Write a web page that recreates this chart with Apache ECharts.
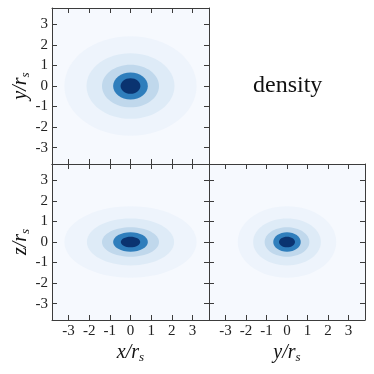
<!DOCTYPE html>
<html>
<head>
<meta charset="utf-8">
<script src="https://cdn.jsdelivr.net/npm/echarts@6/dist/echarts.min.js"></script>
<style>
  html, body { margin: 0; padding: 0; background: #fff; }
  #chart { width: 374px; height: 374px; }
</style>
</head>
<body>
<div id="chart"></div>
<script>
// tick labels and axis range (units of r_s)
const ticks = [-3, -2, -1, 0, 1, 2, 3]
const axisMin = -3.8
const axisMax = 3.8

// filled contour bands, outermost first
const levelColors = ['#eef4fc', '#deebf7', '#c0d8ec', '#2f7ebc', '#0a3370']
const bgColor = '#f6f9fe'
const centre = [0, 0]

// half-widths of each contour band
const xyHalfX = [3.2, 2.13, 1.38, 0.84, 0.48]
const xyHalfY = [2.42, 1.6, 1.04, 0.66, 0.38]
const xzHalfX = [3.2, 2.11, 1.38, 0.84, 0.47]
const xzHalfZ = [1.74, 1.14, 0.72, 0.47, 0.26]
const yzHalfY = [2.4, 1.65, 1.09, 0.67, 0.39]
const yzHalfZ = [1.74, 1.14, 0.72, 0.47, 0.26]

const serif = 'Liberation Serif'
const lineColor = '#3c3c3c'

const nameRich = {
  i: { fontFamily: serif, fontStyle: 'italic', fontSize: 20, color: '#111', lineHeight: 22 },
  s: { fontFamily: serif, fontStyle: 'italic', fontSize: 13, color: '#111', lineHeight: 12, verticalAlign: 'bottom' }
}

function axis(grid, position, showLabels, name) {
  return {
    type: 'value',
    gridIndex: grid,
    position: position,
    min: axisMin,
    max: axisMax,
    splitLine: { show: false },
    axisLine: { show: true, onZero: false, lineStyle: { color: lineColor, width: 1 } },
    axisTick: { show: true, inside: true, length: 5, customValues: ticks, lineStyle: { color: lineColor } },
    axisLabel: {
      show: showLabels,
      customValues: ticks,
      fontFamily: serif,
      fontSize: 15,
      color: '#222',
      margin: 4,
      formatter: v => String(v)
    },
    name: name || '',
    nameLocation: 'middle',
    nameGap: (position === 'left' ? 17 : 22),
    nameTextStyle: { rich: nameRich }
  }
}

function ellipses(grid, hx, hy) {
  return {
    type: 'custom',
    xAxisIndex: grid * 2,
    yAxisIndex: grid * 2,
    clip: true,
    encode: { x: 0, y: 1 },
    data: hx.map((w, i) => [centre[0], centre[1], w, hy[i], i]),
    renderItem: (params, api) => {
      const c = api.coord([api.value(0), api.value(1)])
      const s = api.size([api.value(2), api.value(3)])
      return {
        type: 'ellipse',
        shape: { cx: c[0], cy: c[1], rx: s[0], ry: s[1] },
        style: { fill: levelColors[api.value(4)] }
      }
    }
  }
}

const grids = [
  { left: 52, top: 8, width: 157, height: 156 },
  { left: 52, top: 164, width: 157, height: 156 },
  { left: 209, top: 164, width: 156, height: 156 }
].map(g => Object.assign({ show: true, backgroundColor: bgColor, borderWidth: 0 }, g))

const chart = echarts.init(document.getElementById('chart'))

const option = {
  animation: false,
  grid: grids,
  xAxis: [
    axis(0, 'bottom', false), axis(0, 'top', false),
    axis(1, 'bottom', true, '{i|x/r}{s|s}'), axis(1, 'top', false),
    axis(2, 'bottom', true, '{i|y/r}{s|s}'), axis(2, 'top', false)
  ],
  yAxis: [
    axis(0, 'left', true, '{i|y/r}{s|s}'), axis(0, 'right', false),
    axis(1, 'left', true, '{i|z/r}{s|s}'), axis(1, 'right', false),
    axis(2, 'left', false), axis(2, 'right', false)
  ],
  graphic: [
    {
      type: 'text',
      left: 253,
      top: 74,
      style: { text: 'density', fontFamily: serif, fontSize: 24, fill: '#111' }
    }
  ],
  series: [
    ellipses(0, xyHalfX, xyHalfY),
    ellipses(1, xzHalfX, xzHalfZ),
    ellipses(2, yzHalfY, yzHalfZ)
  ]
}

chart.setOption(option)
</script>
</body>
</html>
